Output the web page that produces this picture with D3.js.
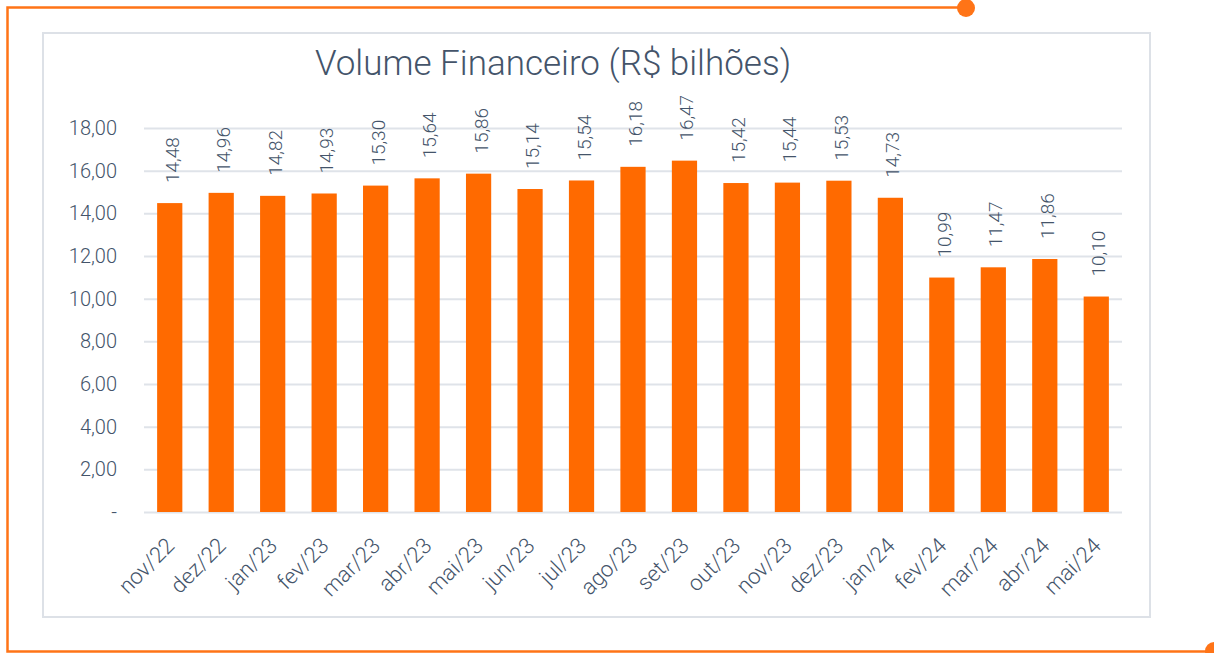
<!DOCTYPE html>
<html>
<head>
<meta charset="utf-8">
<script src="https://cdn.jsdelivr.net/npm/d3@7"></script>
<style>
  html, body { margin: 0; padding: 0; background: #fff; }
  svg { display: block; font-family: Roboto, "Open Sans", sans-serif; }
</style>
</head>
<body>
<svg id="chart" width="1214" height="653"></svg>
<script>
const categories = ["nov/22","dez/22","jan/23","fev/23","mar/23","abr/23","mai/23","jun/23","jul/23","ago/23","set/23","out/23","nov/23","dez/23","jan/24","fev/24","mar/24","abr/24","mai/24"];
const values = [14.48,14.96,14.82,14.93,15.30,15.64,15.86,15.14,15.54,16.18,16.47,15.42,15.44,15.53,14.73,10.99,11.47,11.86,10.10];
const yTicks = [0,2,4,6,8,10,12,14,16,18];
const title = "Volume Financeiro (R$ bilhões)";

const textColor = "#44546a";
const orange = "#ff6a00";
const frameOrange = "#ff7417";
const gridColor = "#dfe3e9";

const svg = d3.select("#chart");
const fmt = v => v === 0 ? "-" : d3.format(".2f")(v).replace(".", ",");

// outer decorative frame
svg.append("path")
  .attr("d", "M966,7.5 H7.5 V651.5 H1214")
  .attr("fill", "none").attr("stroke", frameOrange).attr("stroke-width", 2.5);
svg.append("circle").attr("cx", 966).attr("cy", 8).attr("r", 9).attr("fill", frameOrange);
svg.append("circle").attr("cx", 1214).attr("cy", 651).attr("r", 9).attr("fill", frameOrange);

// card
svg.append("rect").attr("x", 43).attr("y", 33).attr("width", 1107).attr("height", 584)
  .attr("fill", "#fff").attr("stroke", "#dde1e7").attr("stroke-width", 2);

// title
svg.append("text").attr("x", 553).attr("y", 75).attr("text-anchor", "middle")
  .attr("fill", textColor).attr("font-size", 35).attr("font-weight", 300).text(title);

const x = d3.scaleBand().domain(categories).range([144, 1122]).paddingInner(0.51).paddingOuter(0.255);
const y = d3.scaleLinear().domain([0, 18]).range([512, 128]);

// gridlines
svg.append("g").selectAll("line").data(yTicks).join("line")
  .attr("x1", 144).attr("x2", 1122)
  .attr("y1", d => y(d) + 0.5).attr("y2", d => y(d) + 0.5)
  .attr("stroke", gridColor).attr("stroke-width", 2);

// y axis labels
const yAxis = d3.axisLeft(y).tickValues(yTicks).tickFormat(fmt).tickSize(0).tickPadding(0);
const gy = svg.append("g").attr("transform", "translate(117,0)").call(yAxis);
gy.select(".domain").remove();
gy.selectAll("text").attr("fill", textColor).attr("font-size", 20).attr("font-weight", 300)
  .attr("font-family", "Roboto, sans-serif");

// bars
svg.append("g").selectAll("rect").data(values).join("rect")
  .attr("x", (d, i) => x(categories[i]))
  .attr("width", x.bandwidth())
  .attr("y", d => y(d))
  .attr("height", d => y(0) - y(d))
  .attr("fill", orange);

// data labels
svg.append("g").selectAll("text").data(values).join("text")
  .attr("transform", (d, i) => `translate(${x(categories[i]) + x.bandwidth() / 2 + 9},${y(d) - 20}) rotate(-90)`)
  .attr("text-anchor", "start")
  .attr("fill", textColor).attr("font-size", 19).attr("font-weight", 300)
  .text(d => fmt(d));

// x axis
const xAxis = d3.axisBottom(x).tickSize(0).tickPadding(0);
const gx = svg.append("g").attr("transform", "translate(0,512)").call(xAxis);
gx.select(".domain").remove();
gx.selectAll("text")
  .attr("fill", textColor).attr("font-size", 22).attr("font-weight", 300).attr("font-family", "Roboto, sans-serif")
  .attr("text-anchor", "end").attr("dy", 0).attr("y", 0)
  .attr("transform", "translate(6,35) rotate(-45)");
</script>
</body>
</html>
